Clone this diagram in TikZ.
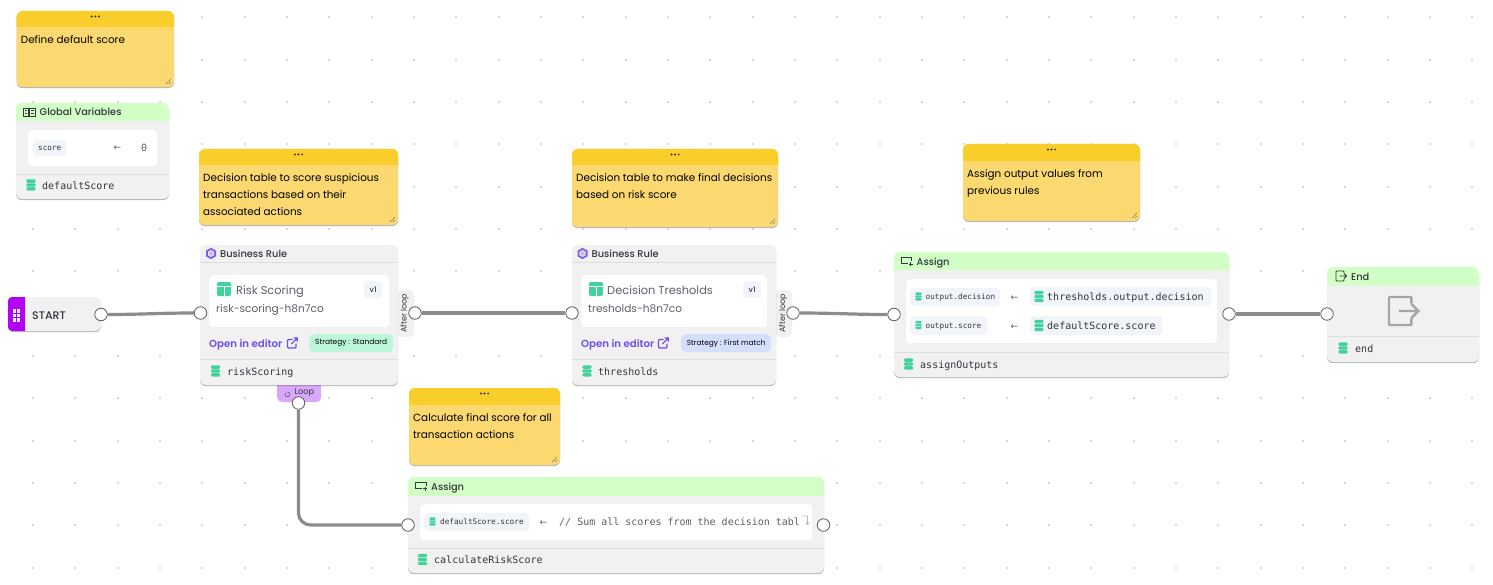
\documentclass[tikz,border=0pt]{standalone}
\usepackage{fontspec}
\setmainfont{Poppins}
\newfontfamily\medfont{Poppins Medium}
\newfontfamily\semifont{Poppins SemiBold}
\newfontfamily\arrowfont{DejaVu Sans}
\setmonofont{DejaVu Sans Mono}
\usetikzlibrary{shadows}

\definecolor{griddot}{HTML}{D8D8D8}
\definecolor{notehead}{HTML}{FACE2A}
\definecolor{notebody}{HTML}{FBD970}
\definecolor{cardgray}{HTML}{F1F1F1}
\definecolor{cardline}{HTML}{DEDEDE}
\definecolor{headgreen}{HTML}{D2FFC6}
\definecolor{dbgreen}{HTML}{42D39C}
\definecolor{chipblue}{HTML}{F1F5F9}
\definecolor{inkdark}{HTML}{33363D}
\definecolor{inkgray}{HTML}{5C6068}
\definecolor{linkpurple}{HTML}{6D4DF2}
\definecolor{hexpurple}{HTML}{7C5CF0}
\definecolor{startpurple}{HTML}{B400F5}
\definecolor{looppurple}{HTML}{D9A8FB}
\definecolor{stratgreen}{HTML}{BBF7D8}
\definecolor{stratblue}{HTML}{D3DFFB}
\definecolor{wiregray}{HTML}{8C8C8C}

\tikzset{
  softshadow/.style={drop shadow={shadow xshift=0pt,shadow yshift=-1.2pt,opacity=.28,fill=black}},
  card/.style={anchor=north west,inner sep=0pt,outer sep=0pt,rounded corners=6pt,fill=cardgray,softshadow},
  notecard/.style={card,fill=notebody},
  whitebox/.style={anchor=north west,inner sep=0pt,rounded corners=4pt,fill=white},
  chip/.style={anchor=north west,inner sep=0pt,rounded corners=4pt,fill=chipblue},
  port/.style={circle,draw=inkgray,fill=white,line width=.8pt,minimum size=12.5pt,inner sep=0pt},
  wire/.style={draw=wiregray,line width=3.2pt},
  divider/.style={draw=cardline,line width=.8pt},
  lbl/.style={anchor=base west,inner sep=0pt,text=inkdark},
  notetext/.style={anchor=north west,inner sep=0pt,align=left,text=black,font=\fontsize{10.4}{16.7}\selectfont},
  headtext/.style={lbl,font=\fontsize{9.8}{12}\medfont},
  monotext/.style={lbl,font=\fontsize{10}{12}\ttfamily},
  smallmono/.style={lbl,font=\fontsize{7.7}{10}\ttfamily},
  linktext/.style={lbl,text=linkpurple,font=\fontsize{10.2}{12}\semifont},
  strattext/.style={inner sep=0pt,font=\fontsize{7.4}{10}\selectfont},
  arrowtext/.style={lbl,text=inkgray,font=\fontsize{9}{10}\arrowfont},
  dbicon/.pic={\foreach \yy in {-3.9,0,3.9} \fill[dbgreen,rounded corners=1.2pt] (-4.6,\yy-1.7) rectangle (4.6,\yy+1.7);},
  tableicon/.pic={
    \fill[dbgreen,rounded corners=2pt] (-7,-7) rectangle (7,7);
    \draw[white,line width=1pt] (-7,-2.6) -- (7,-2.6) (0,-2.6) -- (0,7);
  },
  hexicon/.pic={
    \draw[hexpurple,line width=1.8pt] (0,-4.6) -- (4.1,-2.3) -- (4.1,2.3) -- (0,4.6) -- (-4.1,2.3) -- (-4.1,-2.3) -- cycle;
    \fill[hexpurple!45] (0,0) circle (2.2pt);
  },
  exiticon/.pic={
    \draw[rounded corners=.8pt] (3,-2.6) -- (3,-5) -- (-5,-5) -- (-5,5) -- (3,5) -- (3,2.6);
    \draw (-1.5,0) -- (5.5,0) (3,-2.5) -- (5.5,0) -- (3,2.5);
  },
  assignicon/.pic={
    \draw[inkdark,line width=.9pt] (5,-.5) -- (5,-4) -- (-5.5,-4) -- (-5.5,2) -- (1,2);
    \draw[inkdark,line width=.9pt] (2,2.5) -- (6,2.5) (4,.5) -- (4,4.5);
  },
  bookicon/.pic={
    \draw[inkdark,line width=.8pt] (-6,-4) rectangle (-.4,4) (.4,-4) rectangle (6,4);
    \draw[inkdark,line width=.6pt] (-4.5,-1.5) -- (-2,-1.5) (-4.5,1) -- (-2,1) (2,-1.5) -- (4.5,-1.5) (2,1) -- (4.5,1);
  },
  linkicon/.pic={
    \draw[linkpurple,line width=1.1pt,rounded corners=1pt] (.5,-3.5) -- (-4.5,-3.5) -- (-4.5,5) -- (4,5) -- (4,.5);
    \draw[linkpurple,line width=1.1pt] (-.5,1) -- (5,-4.8) (1.5,-5) -- (5.2,-5) -- (5.2,-1.5);
  },
  loopicon/.pic={
    \draw[inkgray,line width=.6pt] (-1.4,1.8) arc[start angle=220,end angle=-100,radius=2.4];
  },
  foldicon/.pic={
    \draw[gray!55,line width=.7pt] (-3,-4.5) -- (2.5,-4.5) -- (2.5,4) (.8,2.2) -- (2.5,4.2) -- (4.2,2.2);
  },
  gripicon/.pic={
    \foreach \xx in {-2.3,2.3} \foreach \yy in {-4.5,0,4.5} \fill[white] (\xx-1.6,\yy-1.6) rectangle (\xx+1.6,\yy+1.6);
  },
}

% header band with round top corners only
\newcommand{\topband}[5]{
  \fill[#1] (#2,#5) [rounded corners=6pt] -- (#2,#3) -- (#4,#3) [sharp corners] -- (#4,#5) -- cycle;
}

% yellow sticky note: name, x0, y0, x1, y1, band bottom, text
\newcommand{\stickynote}[7]{
  \node[notecard,minimum width={(#4-#2)*1pt},minimum height={(#5-#3)*1pt}] (#1) at (#2,#3) {};
  \topband{notehead}{#2}{#3}{#4}{#6}
  \foreach \dx in {-3.6,0,3.6} \fill[inkdark] ({(#2+#4)/2+\dx},{#3+5.5}) circle (1.1pt);
  \draw[gray,line width=.4pt] (#4-8,#5-3) -- (#4-3,#5-8) (#4-5,#5-3) -- (#4-3,#5-5);
  \node[notetext] (#1Text) at (#2+4,#6+8.6) {#7};
}

% grey flow card: name, x0, y0, x1, y1
\newcommand{\flowcard}[5]{
  \node[card,minimum width={(#4-#2)*1pt},minimum height={(#5-#3)*1pt}] (#1) at (#2,#3) {};
}

\begin{document}
\begin{tikzpicture}[x=1pt,y=-1pt]

\useasboundingbox (0,0) rectangle (1493,585);
\fill[white] (0,0) rectangle (1493,585);

\foreach \i in {0,...,34}{
  \foreach \j in {0,...,13}{
     \fill[griddot] ({33+42.33*\i-1},{17.3+42.33*\j-1}) rectangle ++(2,2);
  }
}

% notes
\stickynote{noteDefault}{16.7}{11}{174}{87}{27}{Define default score}
\stickynote{noteRisk}{199}{149}{398}{225}{165}{Decision table to score suspicious\\transactions based on their\\associated actions}
\stickynote{noteThresholds}{572}{149}{778}{227}{165}{Decision table to make final decisions\\based on risk score}
\stickynote{noteOutputs}{963}{144}{1140}{221}{161}{Assign output values from\\previous rules}
\stickynote{noteFinal}{409}{388}{560}{465}{405}{Calculate final score for all\\transaction actions}

% global variables
\flowcard{globalCard}{16}{103}{169}{199}
\topband{headgreen}{16}{103}{169}{121}
\pic at (29,112) {bookicon};
\node[headtext] (globalTitle) at (39.5,116) {Global Variables};
\node[whitebox,minimum width=129pt,minimum height=36pt] (globalBox) at (28,130) {};
\node[chip,minimum width=33pt,minimum height=16pt] (scoreChip) at (33,140) {};
\node[smallmono] (scoreName) at (38,150.5) {score};
\node[arrowtext] (scoreArrow) at (113.5,150.5) {←};
\node[monotext,text=inkgray] (scoreValue) at (141,151.5) {0};
\draw[divider] (16,174) -- (169,174);
\pic at (31,185) {dbicon};
\node[monotext] (globalName) at (42,189.5) {defaultScore};

% start
\flowcard{startCard}{8}{297}{101}{331}
\fill[startpurple] (25,297) [rounded corners=4pt] -- (8,297) -- (8,331) [sharp corners] -- (25,331) -- cycle;
\pic at (16.5,315.5) {gripicon};
\node[headtext,font=\fontsize{11}{12}\medfont] (startName) at (32,319.5) {START};

% risk scoring rule
\node[anchor=north west,inner sep=0pt,rounded corners=5pt,fill=cardgray,minimum width=17pt,minimum height=47pt] (afterTabRisk) at (397,290) {};
\node[anchor=north west,inner sep=0pt,rounded corners=5pt,fill=looppurple,minimum width=44pt,minimum height=23pt] (loopTab) at (277,379) {};
\flowcard{riskCard}{200}{245}{398}{385}
\draw[divider] (200,262.5) -- (398,262.5);
\pic at (211,253.5) {hexicon};
\node[headtext] (riskType) at (220,257.5) {Business Rule};
\node[whitebox,minimum width=180pt,minimum height=52pt] (riskBox) at (209,275) {};
\pic at (224,289) {tableicon};
\node[lbl,text=inkgray,font=\fontsize{11.4}{13}\selectfont] (riskTitle) at (236,294.6) {Risk Scoring};
\node[chip,minimum width=18pt,minimum height=17pt] (riskVersion) at (364,281) {};
\node[inner sep=0pt,font=\fontsize{7.5}{9}\medfont,text=inkdark] (riskVersionText) at (riskVersion) {v1};
\node[lbl,font=\fontsize{10.6}{12}\selectfont,text=inkgray] (riskSlug) at (216,312.3) {risk-scoring-h8n7co};
\node[linktext] (riskLink) at (209,347) {Open in editor};
\pic at (292,343) {linkicon};
\node[anchor=north west,inner sep=0pt,rounded corners=5pt,fill=stratgreen,minimum width=84pt,minimum height=18pt] (riskStrategy) at (309,334) {};
\node[strattext] (riskStrategyText) at (riskStrategy) {Strategy : Standard};
\draw[divider] (200,359.5) -- (398,359.5);
\pic at (215.5,371) {dbicon};
\node[monotext] (riskName) at (227,375.3) {riskScoring};
\node[inner sep=0pt,rotate=90,font=\fontsize{8}{9}\selectfont,text=inkdark] (afterTextRisk) at (404.5,313.5) {After loop};
\pic at (287,391) {loopicon};
\node[lbl,font=\fontsize{8.2}{9}\selectfont] (loopText) at (294.5,394) {Loop};

% thresholds rule
\node[anchor=north west,inner sep=0pt,rounded corners=5pt,fill=cardgray,minimum width=17pt,minimum height=47pt] (afterTabThresholds) at (775,290) {};
\flowcard{thresholdsCard}{572}{245}{776}{385}
\draw[divider] (572,262.5) -- (776,262.5);
\pic at (582.5,253.5) {hexicon};
\node[headtext] (thresholdsType) at (591.5,257.5) {Business Rule};
\node[whitebox,minimum width=186pt,minimum height=52pt] (thresholdsBox) at (581,275) {};
\pic at (596,289) {tableicon};
\node[lbl,text=inkgray,font=\fontsize{11.4}{13}\selectfont] (thresholdsTitle) at (607,294.6) {Decision Tresholds};
\node[chip,minimum width=18pt,minimum height=17pt] (thresholdsVersion) at (743,281) {};
\node[inner sep=0pt,font=\fontsize{7.5}{9}\medfont,text=inkdark] (thresholdsVersionText) at (thresholdsVersion) {v1};
\node[lbl,font=\fontsize{10.6}{12}\selectfont,text=inkgray] (thresholdsSlug) at (588,312.3) {tresholds-h8n7co};
\node[linktext] (thresholdsLink) at (581,347) {Open in editor};
\pic at (663,343) {linkicon};
\node[anchor=north west,inner sep=0pt,rounded corners=5pt,fill=stratblue,minimum width=90pt,minimum height=18pt] (thresholdsStrategy) at (681,334) {};
\node[strattext] (thresholdsStrategyText) at (thresholdsStrategy) {Strategy : First match};
\draw[divider] (572,359.5) -- (776,359.5);
\pic at (587,371) {dbicon};
\node[monotext] (thresholdsName) at (598,375.3) {thresholds};
\node[inner sep=0pt,rotate=90,font=\fontsize{8}{9}\selectfont,text=inkdark] (afterTextThresholds) at (783,313.5) {After loop};

% output assign
\flowcard{outputsCard}{894}{252}{1229}{377}
\topband{headgreen}{894}{252}{1229}{270.5}
\pic at (906.5,261.5) {assignicon};
\node[headtext] (outputsType) at (916.5,265.5) {Assign};
\node[whitebox,minimum width=311pt,minimum height=64pt] (outputsBox) at (906,279) {};
\node[chip,minimum width=90pt,minimum height=18pt] (decisionChip) at (910,288) {};
\pic[scale=.72] at (918.5,296.5) {dbicon};
\node[smallmono] (decisionName) at (925.5,299.5) {output.decision};
\node[arrowtext] (decisionArrow) at (1010.5,300) {←};
\node[chip,minimum width=181pt,minimum height=19pt] (decisionSource) at (1030,287) {};
\pic at (1039,296.5) {dbicon};
\node[monotext] (decisionSourceText) at (1047,300.5) {thresholds.output.decision};
\node[chip,minimum width=77pt,minimum height=19pt] (scoreOutChip) at (910,316) {};
\pic[scale=.72] at (918.5,325) {dbicon};
\node[smallmono] (scoreOutName) at (925.5,328.5) {output.score};
\node[arrowtext] (scoreOutArrow) at (1010.5,329) {←};
\node[chip,minimum width=132pt,minimum height=19pt] (scoreSource) at (1030,316) {};
\pic at (1039,325.5) {dbicon};
\node[monotext] (scoreSourceText) at (1047,329.5) {defaultScore.score};
\draw[divider] (894,352) -- (1229,352);
\pic at (908.5,364) {dbicon};
\node[monotext] (outputsName) at (920,368) {assignOutputs};

% end
\flowcard{endCard}{1327}{267}{1479}{362}
\topband{headgreen}{1327}{267}{1479}{285.5}
\pic[color=inkdark,line width=.9pt] at (1341,276) {exiticon};
\node[headtext] (endType) at (1351,280) {End};
\pic[scale=2.8,color=gray!70,line width=2.4pt] at (1403,311) {exiticon};
\draw[divider] (1327,336) -- (1479,336);
\pic at (1343,348) {dbicon};
\node[monotext] (endName) at (1355,352) {end};

% final score assign
\flowcard{finalCard}{408}{477}{824}{573}
\topband{headgreen}{408}{477}{824}{496}
\pic at (421,486) {assignicon};
\node[headtext] (finalType) at (431,490) {Assign};
\node[whitebox,minimum width=392pt,minimum height=36pt] (finalBox) at (420,504) {};
\node[chip,minimum width=105pt,minimum height=18pt] (finalChip) at (424,513) {};
\pic[scale=.72] at (432.5,521.5) {dbicon};
\node[smallmono] (finalChipText) at (440,524.5) {defaultScore.score};
\node[arrowtext] (finalArrow) at (539.5,525.5) {←};
\node[monotext,text=inkgray] (finalCode) at (559,525.5) {// Sum all scores from the decision tabl};
\pic at (805,520.5) {foldicon};
\draw[divider] (408,548.5) -- (824,548.5);
\pic at (422.5,559.5) {dbicon};
\node[monotext] (finalName) at (434,563.5) {calculateRiskScore};

% ports and wires
\node[port] (startOut) at (101,314.5) {};
\node[port] (riskIn) at (200.5,313) {};
\node[port] (riskOut) at (415,313) {};
\node[port] (loopOut) at (298.5,403) {};
\node[port] (thresholdsIn) at (572,313) {};
\node[port] (thresholdsOut) at (793,313) {};
\node[port] (outputsIn) at (894,314.5) {};
\node[port] (outputsOut) at (1229,314) {};
\node[port] (endIn) at (1327,314) {};
\node[port] (finalIn) at (408,525) {};
\node[port] (finalOut) at (823.5,525) {};

\draw[wire] (startOut) to[out=0,in=180] (riskIn);
\draw[wire] (riskOut) -- (thresholdsIn);
\draw[wire] (thresholdsOut) to[out=0,in=180] (outputsIn);
\draw[wire] (outputsOut) -- (endIn);
\draw[wire,rounded corners=12pt] (loopOut) |- (finalIn);

\end{tikzpicture}
\end{document}
